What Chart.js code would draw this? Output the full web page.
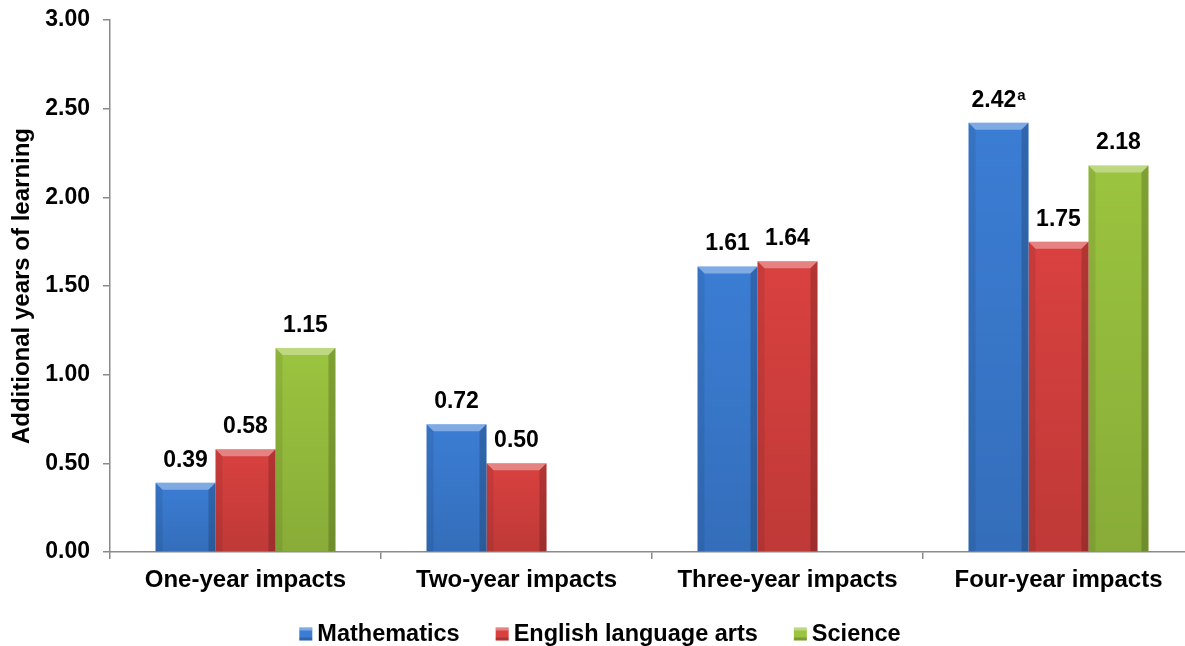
<!DOCTYPE html>
<html>
<head>
<meta charset="utf-8">
<script src="https://cdn.jsdelivr.net/npm/chart.js@4/dist/chart.umd.min.js"></script>
<style>
  html, body { margin: 0; padding: 0; background: #fff; overflow: hidden; }
</style>
</head>
<body>
<canvas id="chartImpacts" width="1200" height="646"></canvas>
<script>
const categories = ['One-year impacts', 'Two-year impacts', 'Three-year impacts', 'Four-year impacts'];
const mathValues = [0.39, 0.72, 1.61, 2.42];
const elaValues = [0.58, 0.50, 1.64, 1.75];
const scienceValues = [1.15, null, null, 2.18];
const mathNotes = ['', '', '', 'a'];
const yTicks = [0, 0.5, 1, 1.5, 2, 2.5, 3];

const FONT = '"Liberation Sans", Arial, sans-serif';
const AXIS_GREY = '#8a8a8a';

// bevel shading on top of each bar, like the office 3D bar style
const bevelPlugin = {
  id: 'bevel',
  afterDatasetsDraw(chart) {
    const ctx = chart.ctx;
    const b = 7;
    chart.data.datasets.forEach((ds, di) => {
      chart.getDatasetMeta(di).data.forEach((bar, i) => {
        if (ds.data[i] == null) return;
        const l = bar.x - bar.width / 2, r = bar.x + bar.width / 2;
        const t = bar.y, bt = bar.base;
        ctx.save();
        const g = ctx.createLinearGradient(0, t, 0, bt);
        g.addColorStop(0, 'rgba(0,0,0,0)');
        g.addColorStop(1, 'rgba(0,0,0,0.12)');
        ctx.fillStyle = g;
        ctx.fillRect(l, t, r - l, bt - t);
        ctx.fillStyle = 'rgba(255,255,255,0.35)';
        ctx.beginPath();
        ctx.moveTo(l, t); ctx.lineTo(r, t); ctx.lineTo(r - b, t + b); ctx.lineTo(l + b, t + b);
        ctx.closePath(); ctx.fill();
        ctx.fillStyle = 'rgba(0,0,0,0.08)';
        ctx.beginPath();
        ctx.moveTo(l, t); ctx.lineTo(l + b, t + b); ctx.lineTo(l + b, bt); ctx.lineTo(l, bt);
        ctx.closePath(); ctx.fill();
        ctx.fillStyle = 'rgba(0,0,0,0.18)';
        ctx.beginPath();
        ctx.moveTo(r, t); ctx.lineTo(r - b, t + b); ctx.lineTo(r - b, bt); ctx.lineTo(r, bt);
        ctx.closePath(); ctx.fill();
        ctx.restore();
      });
    });
  }
};

const barLabels = {
  id: 'barLabels',
  afterDatasetsDraw(chart) {
    const ctx = chart.ctx;
    ctx.save();
    ctx.fillStyle = '#000';
    ctx.textBaseline = 'alphabetic';
    chart.data.datasets.forEach((ds, di) => {
      chart.getDatasetMeta(di).data.forEach((bar, i) => {
        const v = ds.data[i];
        if (v == null) return;
        const txt = v.toFixed(2);
        const note = ds.notes ? ds.notes[i] : '';
        ctx.font = 'bold 23px ' + FONT;
        const w1 = ctx.measureText(txt).width;
        ctx.font = 'bold 15px ' + FONT;
        const w2 = note ? ctx.measureText(note).width + 1 : 0;
        const x0 = bar.x - (w1 + w2) / 2;
        const y0 = bar.y - 16;
        ctx.font = 'bold 23px ' + FONT;
        ctx.textAlign = 'left';
        ctx.fillText(txt, x0, y0);
        if (note) {
          ctx.font = 'bold 15px ' + FONT;
          ctx.fillText(note, x0 + w1 + 1, y0 - 7);
        }
      });
    });
    ctx.restore();
  }
};

const bottomLegend = {
  id: 'bottomLegend',
  afterDraw(chart) {
    const ctx = chart.ctx;
    const box = 13, gapText = 5, gapItem = 36, cy = 634;
    ctx.save();
    ctx.font = 'bold 23.5px ' + FONT;
    const items = chart.data.datasets.map(ds => ({
      label: ds.label, color: ds.backgroundColor, w: ctx.measureText(ds.label).width
    }));
    let total = 0;
    items.forEach((it, k) => { total += box + gapText + it.w + (k ? gapItem : 0); });
    let x = chart.width / 2 - total / 2;
    ctx.textBaseline = 'middle';
    ctx.textAlign = 'left';
    items.forEach(it => {
      ctx.fillStyle = it.color;
      ctx.fillRect(x, cy - box / 2, box, box);
      ctx.fillStyle = 'rgba(255,255,255,0.35)';
      ctx.fillRect(x, cy - box / 2, box, 3);
      ctx.fillStyle = 'rgba(0,0,0,0.2)';
      ctx.fillRect(x, cy + box / 2 - 3, box, 3);
      x += box + gapText;
      ctx.fillStyle = '#000';
      ctx.fillText(it.label, x, cy + 1);
      x += it.w + gapItem;
    });
    ctx.restore();
  }
};

const canvasImpacts = document.getElementById('chartImpacts');
new Chart(canvasImpacts, {
  type: 'bar',
  data: {
    labels: categories,
    datasets: [
      { label: 'Mathematics', data: mathValues, notes: mathNotes, backgroundColor: '#3b7dd4' },
      { label: 'English language arts', data: elaValues, backgroundColor: '#d9413f' },
      { label: 'Science', data: scienceValues, backgroundColor: '#9bc43f' }
    ]
  },
  options: {
    responsive: false,
    animation: false,
    layout: { padding: { top: 20, right: 6, bottom: 54, left: 0 } },
    datasets: { bar: { categoryPercentage: 0.664, barPercentage: 1 } },
    plugins: {
      legend: { display: false },
      tooltip: { enabled: false }
    },
    scales: {
      x: {
        afterFit: (scale) => { scale.height = 40; },
        grid: { drawOnChartArea: false, drawTicks: true, tickLength: 7, color: AXIS_GREY, lineWidth: 1.5 },
        border: { color: AXIS_GREY, width: 1.5 },
        ticks: { color: '#000', padding: 7, font: { family: FONT, size: 24, weight: 'bold' }, maxRotation: 0 }
      },
      y: {
        min: 0,
        max: 3,
        afterFit: (scale) => {
          scale.width = 110;
          scale.paddingTop = 0;
          scale.paddingBottom = 0;
        },
        afterBuildTicks: (scale) => { scale.ticks = yTicks.map(v => ({ value: v })); },
        grid: { drawOnChartArea: false, drawTicks: true, tickLength: 7, color: AXIS_GREY, lineWidth: 1.5 },
        border: { color: AXIS_GREY, width: 1.5 },
        ticks: {
          color: '#000', padding: 13,
          font: { family: FONT, size: 23, weight: 'bold' },
          callback: (v) => Number(v).toFixed(2)
        },
        title: {
          display: true,
          text: 'Additional years of learning',
          color: '#000',
          padding: { top: 8, bottom: 0 },
          font: { family: FONT, size: 24, weight: 'bold' }
        }
      }
    }
  },
  plugins: [bevelPlugin, barLabels, bottomLegend]
});
</script>
</body>
</html>
